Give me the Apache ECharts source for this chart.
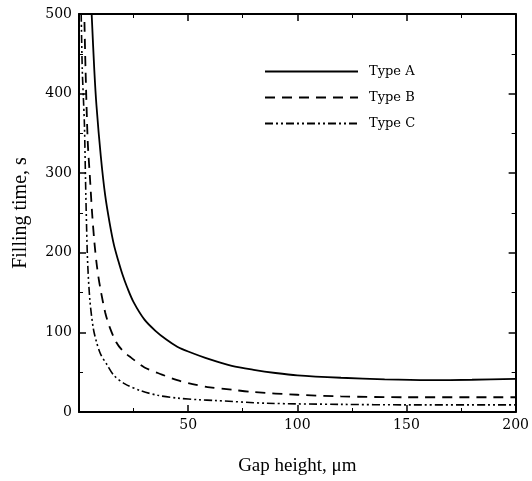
<!DOCTYPE html>
<html>
<head>
<meta charset="utf-8">
<script src="https://cdn.jsdelivr.net/npm/echarts@6/dist/echarts.min.js"></script>
<style>
  html, body { margin: 0; padding: 0; background: #fff; }
  #chart { width: 532px; height: 481px; }
</style>
</head>
<body>
<div id="chart"></div>
<script>
// gap height (µm) -> filling time (s)
const typeA = [
  [5.8, 500], [7, 430], [8, 385], [10, 321], [12, 272], [14, 238], [16, 210],
  [18, 190], [20, 172], [22, 157], [25, 138], [30, 116], [35, 102], [40, 91],
  [45, 82], [50, 76], [60, 66], [70, 58], [80, 53], [90, 49], [100, 46],
  [120, 43], [140, 41], [160, 40], [180, 40.5], [200, 41.5]
]
const typeB = [
  [2.5, 490], [3, 430], [4, 340], [5, 295], [6, 250], [7, 215], [8, 188],
  [9, 168], [10, 152], [12, 125], [14, 107], [17, 88], [20, 77], [24, 68],
  [30, 56], [38, 47], [45, 40], [52, 35], [60, 31], [70, 28], [80, 25],
  [100, 21.7], [120, 19.6], [150, 18.5], [200, 18.5]
]
const typeC = [
  [1, 500], [1.5, 430], [2, 395], [2.5, 360], [3, 290], [3.5, 230], [4, 185],
  [5, 140], [6.5, 106], [8, 88], [10, 72], [12.7, 60], [16, 46], [21, 35.4],
  [28, 27], [36, 21], [45, 17.5], [55, 15.4], [62, 14.5], [86, 11],
  [120, 9.6], [150, 9], [200, 9]
]
const seriesNames = ['Type A', 'Type B', 'Type C']
const xTicks = [0, 50, 100, 150, 200]
const yTicks = [0, 100, 200, 300, 400, 500]

const chart = echarts.init(document.getElementById('chart'))

const serif = '"Liberation Serif", "DejaVu Serif", serif'
const tickFont = '"DejaVu Serif", serif'

const axisCommon = {
  axisLine: { show: true, onZero: false, lineStyle: { color: '#000', width: 2 } },
  axisTick: { show: true, inside: true, length: 7, lineStyle: { color: '#000', width: 1.5 } },
  minorTick: { show: true, splitNumber: 2, length: 4, lineStyle: { color: '#000', width: 1 } },
  splitLine: { show: false }
}

chart.setOption({
  animation: false,
  grid: { left: 79, right: 16, top: 14, bottom: 66 },
  legend: {
    orient: 'vertical',
    left: 259,
    top: 60,
    itemWidth: 93,
    itemHeight: 14,
    itemGap: 13,
    data: seriesNames,
    itemStyle: { opacity: 0 },
    textStyle: { fontFamily: tickFont, fontSize: 13, color: '#000', padding: [0, 0, 0, 6] }
  },
  xAxis: [
    Object.assign({
      type: 'value', min: xTicks[0], max: xTicks[xTicks.length - 1], interval: 50,
      name: 'Gap height, μm', nameLocation: 'middle', nameGap: 45,
      nameTextStyle: { fontFamily: serif, fontSize: 19, color: '#000' },
      axisLabel: {
        color: '#000', fontFamily: tickFont, fontSize: 14, margin: 6,
        formatter: v => v === 0 ? '' : String(v)
      }
    }, axisCommon),
    Object.assign({
      type: 'value', position: 'top', min: 0, max: 200, interval: 50,
      axisLabel: { show: false }
    }, axisCommon)
  ],
  yAxis: [
    Object.assign({
      type: 'value', min: yTicks[0], max: yTicks[yTicks.length - 1], interval: 100,
      name: 'Filling time, s', nameLocation: 'middle', nameGap: 48, nameRotate: 90,
      nameTextStyle: { fontFamily: serif, fontSize: 20, color: '#000' },
      axisLabel: { color: '#000', fontFamily: tickFont, fontSize: 14, margin: 7 }
    }, axisCommon),
    Object.assign({
      type: 'value', position: 'right', min: 0, max: 500, interval: 100,
      axisLabel: { show: false }
    }, axisCommon)
  ],
  series: [
    {
      name: seriesNames[0], type: 'line', data: typeA, symbol: 'none',
      smooth: 0.3, color: '#000',
      lineStyle: { color: '#000', width: 1.8, type: 'solid' }
    },
    {
      name: seriesNames[1], type: 'line', data: typeB, symbol: 'none',
      smooth: 0.3, color: '#000',
      lineStyle: { color: '#000', width: 1.8, type: [10, 7] }
    },
    {
      name: seriesNames[2], type: 'line', data: typeC, symbol: 'none',
      smooth: 0.3, color: '#000',
      lineStyle: { color: '#000', width: 1.6, type: [8, 3, 2, 3, 2, 3] }
    }
  ]
})
</script>
</body>
</html>
